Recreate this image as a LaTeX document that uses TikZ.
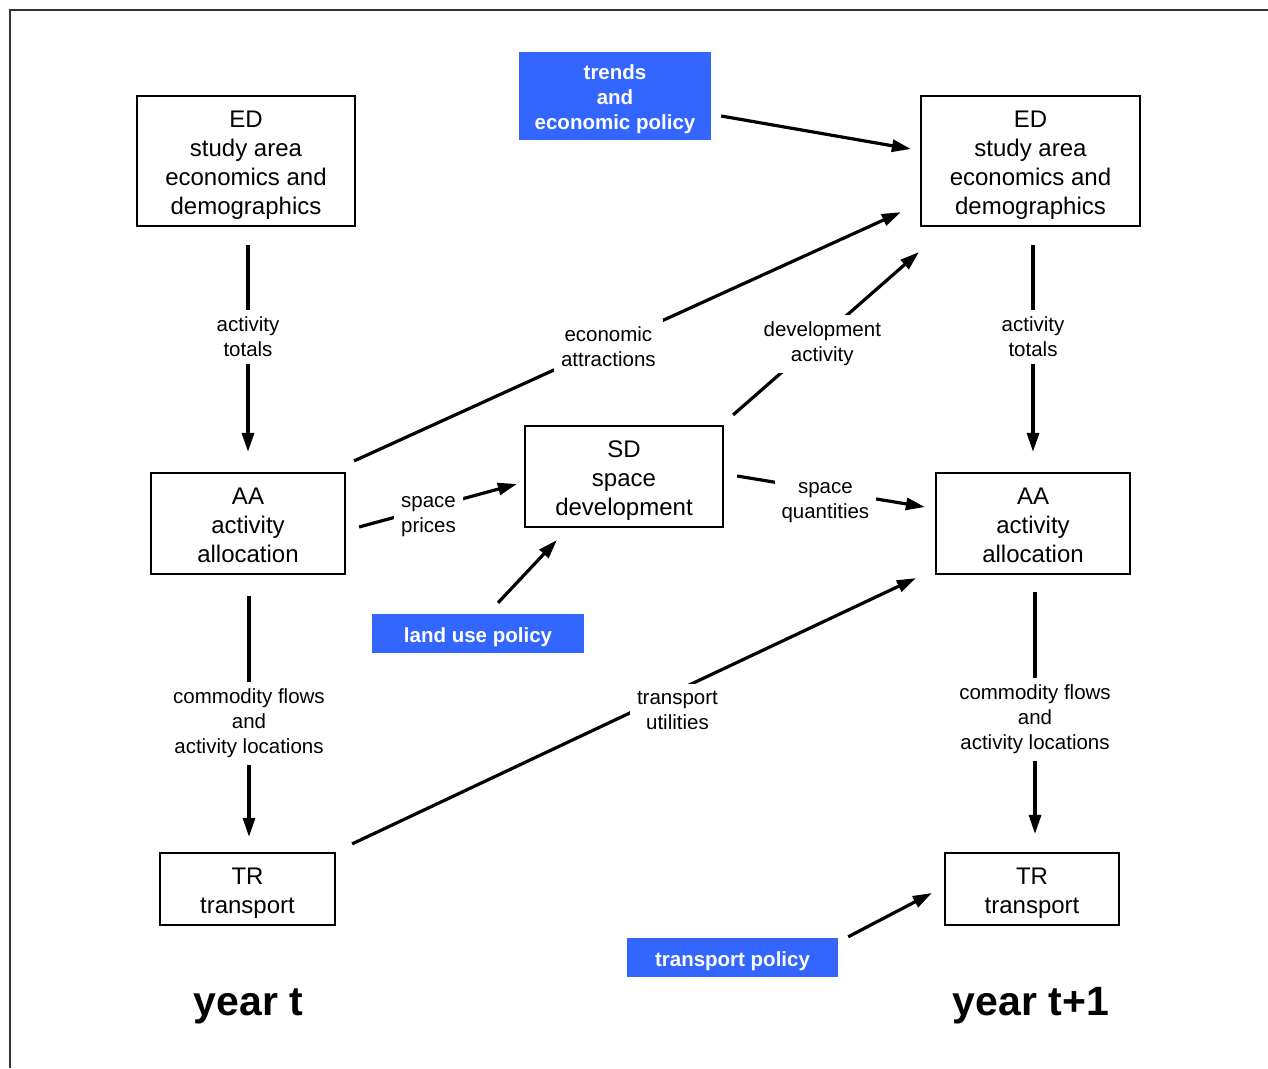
\documentclass[tikz,border=0pt]{standalone}
\usepackage{fontspec}
\setmainfont{Liberation Sans}
\usetikzlibrary{arrows.meta,calc,positioning}
\definecolor{policyblue}{RGB}{51,102,255}
\definecolor{framegray}{RGB}{51,51,51}
\newcommand\modtop[1][25pt]{\rule{0pt}{#1}}% first line height, module box
\newcommand\poltop{\rule{0pt}{21.5pt}}% first line height, policy box
\tikzset{
modbox/.style = {draw=black, line width=2.2pt, align=center, inner sep=0pt,
font=\fontsize{24}{29}\selectfont},% module box
polbox/.style = {fill=policyblue, text=white, align=center, inner sep=0pt,
font=\fontsize{20.5}{25}\selectfont\bfseries},% policy input
flow/.style = {line width=3.2pt, -{Triangle[length=19pt,width=12pt]}},% data flow
flowlbl/.style = {fill=white, align=center, inner sep=7pt, font=\fontsize{20.5}{25}\selectfont},% flow label
yearlbl/.style = {font=\fontsize{41}{49}\selectfont\bfseries, anchor=base}% year caption
}

\begin{document}
\begin{tikzpicture}[x=1pt,y=-1pt]
	\useasboundingbox (0,0) rectangle (1268,1068);
	\draw[framegray, line width=2pt] (9.5,1068) -- (9.5,9.5) -- (1268,9.5);
	% year t
	\node [modbox, minimum width=218pt, minimum height=130pt] (edL) at (246,161) {\modtop ED\\study area\\economics and\\demographics};
	\node [modbox, minimum width=194pt, minimum height=101pt] (aaL) at (248,523.5) {\modtop[21pt]AA\\activity\\allocation};
	\node [modbox, minimum width=175pt, minimum height=72pt] (trL) at (247.5,889) {\modtop TR\\transport};
	\node [yearlbl] (yearL) at (248.5,1015) {year t};
	% year t+1
	\node [modbox, minimum width=219pt, minimum height=130pt] (edR) at (1030.5,161) {\modtop ED\\study area\\economics and\\demographics};
	\node [modbox, minimum width=194pt, minimum height=101pt] (aaR) at (1033,523.5) {\modtop[21pt]AA\\activity\\allocation};
	\node [modbox, minimum width=174pt, minimum height=72pt] (trR) at (1032,889) {\modtop TR\\transport};
	\node [yearlbl] (yearR) at (1031,1015) {year t+1};
	% space development and policies
	\node [modbox, minimum width=198pt, minimum height=101pt] (sd) at (624,476.5) {\modtop SD\\space\\development};
	\node [polbox, minimum width=192pt, minimum height=88pt] (trends) at (615,96) {\poltop trends\\and\\economic policy};
	\node [polbox, minimum width=212pt, minimum height=39pt] (landuse) at (478,633.5) {\poltop land use policy};
	\node [polbox, minimum width=211pt, minimum height=39pt] (tpolicy) at (732.5,957.5) {\poltop transport policy};

	\draw[flow] ($(edL.south -| aaL.north)+(0,18)$) -- node[flowlbl, pos=0.445] {activity\\totals} ($(aaL.north)+(0,-20)$);
	\draw[flow] ($(aaL.south)+(1,21)$) -- node[flowlbl, pos=0.52, yshift=-2pt] {commodity flows\\and\\activity locations} ($(trL.north)+(1.5,-15)$);
	\draw[flow] ($(edR.south -| aaR.north)+(0,18)$) -- node[flowlbl, pos=0.445] {activity\\totals} ($(aaR.north)+(0,-20)$);
	\draw[flow] ($(aaR.south)+(2,17)$) -- node[flowlbl, pos=0.52, yshift=-1.5pt] {commodity flows\\and\\activity locations} ($(trR.north)+(3,-18)$);
	\draw[flow] ($(trends.east)+(10,20)$) -- ($(edR.west)+(-9,-12)$);
	\draw[flow] ($(aaL.north east)+(8,-11)$) -- node[flowlbl, pos=0.465, yshift=-1pt] {economic\\attractions} ($(edR.south west)+(-19,-15)$);
	\draw[flow] ($(sd.north east)+(9,-10)$) -- node[flowlbl, pos=0.48, yshift=-7pt] {development\\activity} ($(edR.south west)+(-1,25)$);
	\draw[flow] ($(aaL.east)+(13,3.5)$) -- node[flowlbl, pos=0.44, yshift=-8.5pt] {space\\prices} ($(sd.west)+(-7,7.5)$);
	\draw[flow] ($(sd.east)+(13,-0.5)$) -- node[flowlbl, pos=0.47, yshift=-12pt] {space\\quantities} ($(aaR.west)+(-10,-16.5)$);
	\draw[flow] ($(landuse.north)+(20,-11)$) -- ($(sd.south west)+(33,12)$);
	\draw[flow] ($(trL.north east)+(16,-8)$) -- node[flowlbl, pos=0.57, xshift=4pt, yshift=-18pt] {transport\\utilities} ($(aaR.south west)+(-19,3)$);
	\draw[flow] ($(tpolicy.north east)+(10,-1)$) -- ($(trR.west)+(-12,4)$);
\end{tikzpicture}
\end{document}
